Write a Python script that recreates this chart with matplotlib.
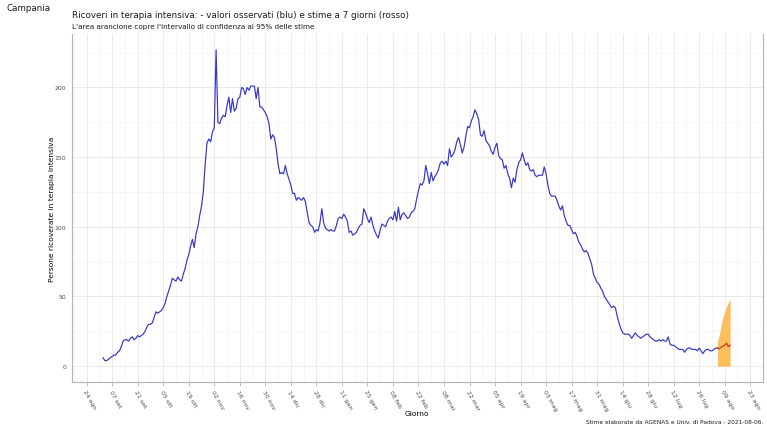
"""Campania ICU occupancy: observed values and 7-day forecast."""
import numpy as np
import pandas as pd
import matplotlib
matplotlib.use("Agg")
import matplotlib.pyplot as plt
import matplotlib.dates as mdates

BLUE = "#3434C8"
RED = "#C8321E"
BAND = "#FDBF5C"
INK = "#1A1A1A"
GREY_TXT = "#4D4D4D"
GRID_MAJ = "#E6E6E6"
GRID_MIN = "#F3F3F3"
AXIS = "#B3B3B3"

# --- data ---
obs_start = "2020-09-02"
observed = [
    6, 4, 4, 5, 6, 7, 8, 8, 10, 11, 14, 18, 19, 19, 18, 20, 21, 19, 20, 22,
    21, 22, 23, 25, 28, 30, 30, 31, 35, 39, 38, 39, 40, 42, 45, 50, 54, 58, 63, 62,
    61, 64, 62, 61, 66, 70, 76, 80, 86, 91, 85, 95, 100, 108, 115, 125, 145, 160, 163, 161,
    168, 171, 227, 175, 174, 178, 180, 179, 187, 193, 182, 192, 183, 185, 192, 193, 200, 199, 195, 200,
    198, 201, 201, 201, 192, 200, 186, 186, 184, 182, 179, 174, 163, 166, 164, 156, 145, 138, 139, 138,
    144, 138, 134, 130, 124, 124, 119, 121, 120, 119, 121, 118, 110, 103, 101, 100, 96, 98, 97, 103,
    113, 103, 99, 98, 97, 98, 97, 97, 101, 106, 107, 106, 109, 107, 104, 96, 97, 94, 95, 96,
    99, 101, 102, 113, 110, 106, 103, 107, 101, 97, 94, 92, 98, 102, 101, 100, 104, 106, 107, 105,
    111, 104, 114, 105, 109, 110, 108, 106, 107, 110, 111, 113, 120, 126, 131, 130, 133, 144, 138, 131,
    139, 133, 136, 138, 141, 146, 147, 145, 147, 144, 156, 150, 152, 155, 161, 164, 159, 153, 157, 165,
    172, 171, 176, 179, 184, 181, 177, 166, 165, 169, 162, 160, 158, 154, 152, 157, 160, 151, 149, 148,
    142, 144, 138, 135, 128, 135, 132, 141, 146, 148, 153, 148, 144, 146, 141, 140, 141, 137, 136, 137,
    137, 137, 143, 138, 130, 124, 122, 122, 122, 119, 115, 112, 115, 108, 104, 101, 101, 98, 95, 96,
    93, 89, 87, 84, 82, 83, 81, 77, 73, 66, 63, 60, 59, 56, 54, 50, 48, 46, 44, 42,
    43, 42, 36, 31, 27, 24, 23, 23, 23, 22, 20, 22, 24, 22, 21, 20, 21, 22, 23, 23,
    21, 20, 19, 18, 18, 19, 18, 19, 18, 18, 21, 16, 15, 15, 14, 13, 12, 12, 12, 10,
    12, 13, 13, 12, 12, 12, 11, 13, 11, 9, 11, 12, 12, 11, 11, 12, 13, 13,
]
fc_start = "2021-08-05"
forecast = [13, 12.5, 13.5, 14.5, 15, 16.5, 14, 15]
fc_lower = [0, 0, 0, 0, 0, 0, 0, 0]
fc_upper = [18, 22, 29, 35, 39, 43, 46, 48]

obs_dates = pd.date_range(obs_start, periods=len(observed), freq="D")
fc_dates = pd.date_range(fc_start, periods=len(forecast), freq="D")

MESI = ["gen", "feb", "mar", "apr", "mag", "giu", "lug", "ago", "set", "ott", "nov", "dic"]

plt.rcParams.update({"font.family": "DejaVu Sans", "text.color": INK})
fig = plt.figure(figsize=(7.67, 4.31), dpi=100)
ax = fig.add_axes([0.0935, 0.1114, 0.9013, 0.8074])

ax.fill_between(fc_dates, fc_lower, fc_upper, color=BAND, linewidth=0, zorder=2)
ax.plot(obs_dates, observed, color=BLUE, linewidth=0.85, zorder=3)
ax.plot(fc_dates, forecast, color=RED, linewidth=0.85, zorder=4)

# limits with ggplot-style 5% expansion
x0 = mdates.date2num(obs_dates[0]); x1 = mdates.date2num(fc_dates[-1])
pad = (x1 - x0) * 0.05
ax.set_xlim(x0 - pad, x1 + pad)
ymax = max(max(observed), max(fc_upper))
ax.set_ylim(-ymax * 0.05, ymax * 1.05)

major = pd.date_range("2020-08-24", "2021-08-23", freq="14D")
minor = pd.date_range("2020-08-17", "2021-08-30", freq="14D")
ax.set_xticks(mdates.date2num(major))
ax.set_xticks(mdates.date2num(minor), minor=True)
ax.set_xticklabels([f"{d.day:02d} {MESI[d.month - 1]}" for d in major],
                   rotation=-60, ha="left", va="top", rotation_mode="anchor")
ax.set_yticks([0, 50, 100, 150, 200])
ax.set_yticks([25, 75, 125, 175, 225], minor=True)

ax.grid(which="major", color=GRID_MAJ, linewidth=0.6)
ax.grid(which="minor", color=GRID_MIN, linewidth=0.5)
ax.set_axisbelow(True)
ax.spines["top"].set_visible(False)
for s in ["left", "bottom", "right"]:
    ax.spines[s].set_color(AXIS)
    ax.spines[s].set_linewidth(0.8)
ax.tick_params(which="major", length=3, width=0.6, color=AXIS,
               labelsize=4.4, labelcolor=GREY_TXT, pad=2)
ax.tick_params(which="minor", length=0)
ax.tick_params(axis="y", length=0, pad=4)

ax.set_xlabel("Giorno", fontsize=5.4, va="center")
ax.xaxis.set_label_coords(0.5, -0.089)
ax.set_ylabel("Persone ricoverate in terapia intensiva", fontsize=5.4, va="center")
ax.yaxis.set_label_coords(-0.0285, 0.5)

fig.text(0.009, 0.98, "Campania", fontsize=6.3, va="center")
fig.text(0.0935, 0.965,
         "Ricoveri in terapia intensiva: - valori osservati (blu) e stime a 7 giorni (rosso)",
         fontsize=6.3, va="center")
fig.text(0.0935, 0.938,
         "L'area arancione copre l'intervallo di confidenza al 95% delle stime",
         fontsize=5.2, va="center")
fig.text(0.9948, 0.0186, "Stime elaborate da AGENAS e Univ. di Padova - 2021-08-06.",
         fontsize=4.2, ha="right", va="center")

fig.savefig("out.png", dpi=100)
